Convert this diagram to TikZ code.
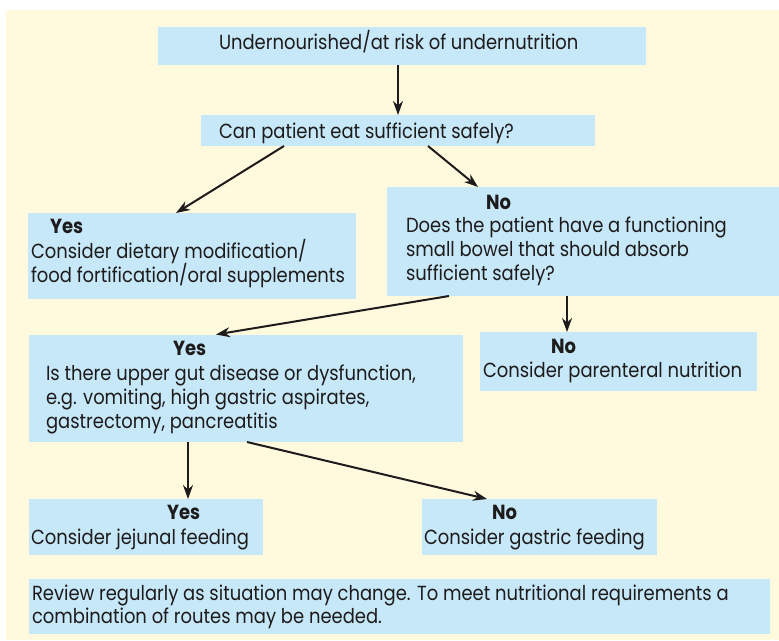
\documentclass[tikz,border=0pt]{standalone}
\usepackage{fontspec}
\setmainfont{Poppins}[FakeStretch=0.88]
\usetikzlibrary{arrows.meta,calc}
\definecolor{cream}{RGB}{255,250,222}
\definecolor{boxblue}{RGB}{198,232,248}
\definecolor{ink}{RGB}{30,27,28}
\begin{document}
\begin{tikzpicture}[x=1pt,y=-1pt,
  box/.style={fill=boxblue, draw=none, inner sep=0pt, outer sep=0pt},
  txt/.style={anchor=base west, inner sep=0pt, outer sep=0pt, text=ink, font=\fontsize{20.4}{24}\selectfont},
  hdr/.style={txt, font=\fontsize{20.4}{24}\selectfont\bfseries},
  arr/.style={-{Stealth[length=14pt,width=10pt]}, line width=2pt, draw=ink}]
\useasboundingbox (0,0) rectangle (779,640);
\fill[white] (0,0) rectangle (779,640);
\fill[cream] (6,10) rectangle (779,640);
% boxes
\node[box, minimum width=488pt, minimum height=38pt] (top) at (402,46) {};
\node[box, minimum width=394pt, minimum height=31pt] (can) at (398,130.5) {};
\node[box, minimum width=328pt, minimum height=86pt] (yes1) at (192,256) {};
\node[box, minimum width=392pt, minimum height=109pt] (no1) at (583,241.5) {};
\node[box, minimum width=277pt, minimum height=59pt] (no2) at (618.5,361.5) {};
\node[box, minimum width=434pt, minimum height=107pt] (yes2) at (246,388.5) {};
\node[box, minimum width=234pt, minimum height=56pt] (yes3) at (146,527) {};
\node[box, minimum width=235pt, minimum height=56pt] (no3) at (539.5,527) {};
\node[box, minimum width=741pt, minimum height=55pt] (rev) at (399.5,606.5) {};
% texts
\node[txt] (ttop) at (219,49) {Undernourished/at risk of undernutrition};
\node[txt] (tcan) at (219,138) {Can patient eat sufficient safely?};
\node[hdr] (hyes1) at (50,233) {Yes};
\node[txt] (tyes1a) at (31,258) {Consider dietary modification/};
\node[txt] (tyes1b) at (31,282) {food fortification/oral supplements};
\node[hdr] (hno1) at (486,209) {No};
\node[txt] (tno1a) at (406,232.5) {Does the patient have a functioning};
\node[txt] (tno1b) at (406,256.5) {small bowel that should absorb};
\node[txt] (tno1c) at (406,280.5) {sufficient safely?};
\node[hdr] (hno2) at (551,353) {No};
\node[txt] (tno2) at (483,377) {Consider parenteral nutrition};
\node[hdr] (hyes2) at (173,355) {Yes};
\node[txt] (tyes2a) at (46,380) {Is there upper gut disease or dysfunction,};
\node[txt] (tyes2b) at (46,404) {e.g. vomiting, high gastric aspirates,};
\node[txt] (tyes2c) at (46,428) {gastrectomy, pancreatitis};
\node[hdr] (hyes3) at (167,519) {Yes};
\node[txt] (tyes3) at (31,544) {Consider jejunal feeding};
\node[hdr] (hno3) at (492,519) {No};
\node[txt] (tno3) at (424,544) {Consider gastric feeding};
\node[txt] (treva) at (32,600) {Review regularly as situation may change. To meet nutritional requirements a};
\node[txt] (trevb) at (32,623) {combination of routes may be needed.};
% arrows
\draw[arr] (top.south -| 398,0) -- (can.north -| 398,0);
\draw[arr] (can.south -| 284,0) -- (yes1.north -| 176,0);
\draw[arr] (can.south -| 428,0) -- (no1.north -| 478,0);
\draw[arr, shorten >=3pt] (no1.south -| 449,0) -- (yes2.north -| 213,0);
\draw[arr] (no1.south -| 567,0) -- (no2.north -| 567,0);
\draw[arr] (yes2.south -| 188,0) -- (yes3.north -| 188,0);
\draw[arr] (yes2.south -| 247,0) -- (no3.north -| 487,0);
\end{tikzpicture}
\end{document}
